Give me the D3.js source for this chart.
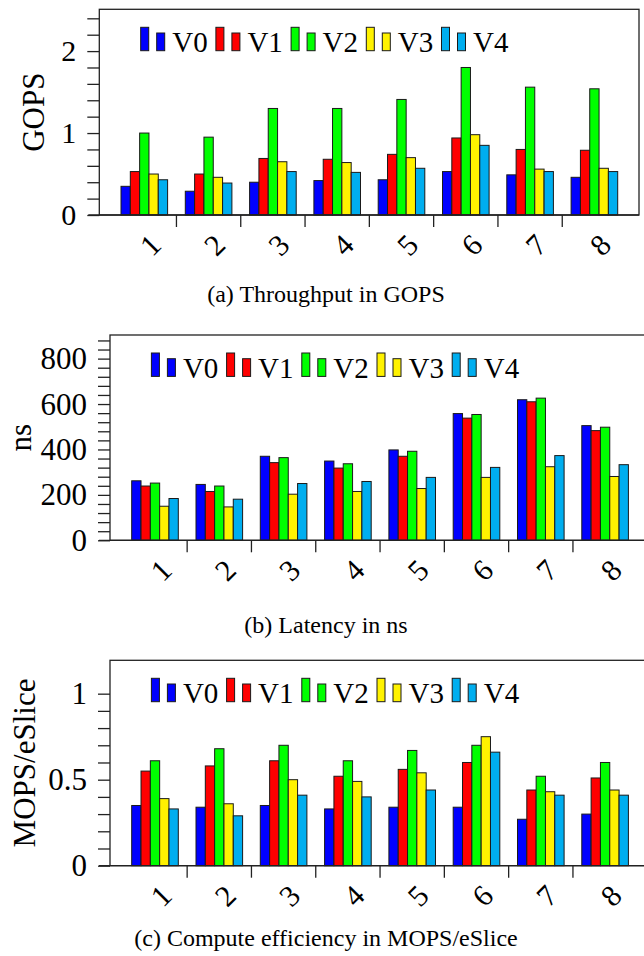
<!DOCTYPE html>
<html>
<head>
<meta charset="utf-8">
<style>
	body { margin: 0; background: #fff; }
	text { font-family: "Liberation Serif", "Times New Roman", serif; fill: #000; }
	.bar { stroke: #1a1a1a; stroke-width: 1; }
	.frame { fill: none; stroke: #222; stroke-width: 1.3; }
	.tick line, .sep { stroke: #222; stroke-width: 1.3; }
</style>
</head>
<body>
<svg width="644" height="956"></svg>
<script src="https://d3js.org/d3.v7.min.js"></script>
<script>

	// series and categories
	var series = ["V0", "V1", "V2", "V3", "V4"];
	var colors = ["#0000ff", "#ff0000", "#00ff00", "#fff200", "#00aeef"];
	var groups = ["1", "2", "3", "4", "5", "6", "7", "8"];

	// (a) throughput, GOPS - one row per series
	var gops = [
		[0.35, 0.29, 0.40, 0.42, 0.43, 0.53, 0.49, 0.46],
		[0.53, 0.50, 0.69, 0.68, 0.74, 0.94, 0.80, 0.79],
		[1.00, 0.95, 1.30, 1.30, 1.41, 1.80, 1.56, 1.54],
		[0.50, 0.46, 0.65, 0.64, 0.70, 0.98, 0.56, 0.57],
		[0.43, 0.39, 0.53, 0.52, 0.57, 0.85, 0.53, 0.53]
	];

	// (b) latency, ns
	var latency = [
		[262, 246, 370, 349, 398, 558, 619, 505],
		[239, 215, 342, 318, 370, 538, 610, 483],
		[252, 239, 364, 337, 392, 554, 626, 498],
		[150, 147, 203, 215, 228, 277, 324, 281],
		[184, 181, 250, 259, 277, 321, 373, 333]
	];

	// (c) compute efficiency, MOPS/eSlice
	var efficiency = [
		[0.35, 0.34, 0.35, 0.33, 0.34, 0.34, 0.27, 0.30],
		[0.55, 0.58, 0.61, 0.52, 0.56, 0.60, 0.44, 0.51],
		[0.61, 0.68, 0.70, 0.61, 0.67, 0.70, 0.52, 0.60],
		[0.39, 0.36, 0.50, 0.49, 0.54, 0.75, 0.43, 0.44],
		[0.33, 0.29, 0.41, 0.40, 0.44, 0.66, 0.41, 0.41]
	];

	var gopsTicks = d3.range(0, 2.41, 0.2), gopsLabels = [0, 1, 2];
	var latTicks = d3.range(0, 881, 40), latLabels = [0, 200, 400, 600, 800];
	var effTicks = d3.range(0, 1.01, 0.1), effLabels = [0, 0.5, 1];

	var svg = d3.select("svg");

	var panels = [
		{ data: gops, left: 99.3, right: 639, top: 9.3, bottom: 215, max: 2.51,
			ticks: gopsTicks, labels: gopsLabels, fmt: d3.format("d"), tickFont: 30,
			ylabel: "GOPS", ylabelX: 33, caption: "(a)  Throughput in GOPS", captionY: 302 },
		{ data: latency, left: 110, right: 652, top: 335, bottom: 540.3, max: 904,
			ticks: latTicks, labels: latLabels, fmt: d3.format("d"), tickFont: 31,
			ylabel: "ns", ylabelX: 20, caption: "(b)  Latency in ns", captionY: 633 },
		{ data: efficiency, left: 110, right: 652, top: 660.3, bottom: 865.7, max: 1.194,
			ticks: effTicks, labels: effLabels, tickFont: 31,
			fmt: function (d) { return d === 0 || d === 1 ? d3.format("d")(d) : d3.format(".1f")(d); },
			ylabel: "MOPS/eSlice", ylabelX: 24, caption: "(c)  Compute efficiency in MOPS/eSlice", captionY: 946 }
	];

	panels.forEach(function (p) {
		var g = svg.append("g");

		var y = d3.scaleLinear().domain([0, p.max]).range([p.bottom, p.top]);
		// groups centred 45px in from the frame, 64.3px apart
		var x0 = d3.scaleBand().domain(groups)
			.range([p.left + 45 - 32.15, p.left + 45 + 7.5 * 64.3]);
		var x1 = d3.scaleBand().domain(series).range([0, 46.6]);
		var off = (x0.bandwidth() - x1.range()[1]) / 2;

		// y ticks (outside, every minor step), labels at majors
		var yAxis = d3.axisLeft(y).tickValues(p.ticks).tickSize(12).tickFormat("");
		g.append("g")
			.attr("transform", "translate(" + p.left + ",0)")
			.call(yAxis)
			.call(function (s) { s.select(".domain").remove(); });

		g.selectAll(".ylab")
			.data(p.labels)
			.enter().append("text")
			.attr("x", p.left - 23)
			.attr("y", function (d) { return y(d); })
			.attr("dy", "0.34em")
			.attr("text-anchor", "end")
			.style("font-size", p.tickFont + "px")
			.text(p.fmt);

		// bars
		var grp = g.selectAll(".grp")
			.data(groups)
			.enter().append("g")
			.attr("transform", function (d) { return "translate(" + (x0(d) + off) + ",0)"; });

		grp.selectAll("rect")
			.data(function (d, i) {
				return series.map(function (s, k) { return { s: s, k: k, v: p.data[k][i] }; });
			})
			.enter().append("rect")
			.attr("class", "bar")
			.attr("x", function (d) { return x1(d.s); })
			.attr("width", x1.bandwidth())
			.attr("y", function (d) { return y(d.v); })
			.attr("height", function (d) { return y(0) - y(d.v); })
			.attr("fill", function (d) { return colors[d.k]; });

		// frame
		g.append("rect")
			.attr("class", "frame")
			.attr("x", p.left)
			.attr("y", p.top)
			.attr("width", p.right - p.left)
			.attr("height", p.bottom - p.top);

		// baseline runs past the frame like the zero tick
		g.append("line")
			.attr("class", "sep")
			.attr("x1", p.left - 11).attr("x2", p.right)
			.attr("y1", y(0)).attr("y2", y(0));

		// separators between groups
		g.selectAll(".sepx")
			.data(groups.slice(1))
			.enter().append("line")
			.attr("class", "sep")
			.attr("x1", function (d) { return x0(d); })
			.attr("x2", function (d) { return x0(d); })
			.attr("y1", y(0)).attr("y2", y(0) + 12);

		// rotated category labels
		g.selectAll(".xlab")
			.data(groups)
			.enter().append("text")
			.attr("transform", function (d) {
				return "translate(" + (x0(d) + x0.bandwidth() / 2 + 6) + "," + (y(0) + 30) + ") rotate(-45)";
			})
			.attr("text-anchor", "middle")
			.attr("dy", "0.34em")
			.style("font-size", "30px")
			.text(function (d) { return d; });

		// legend
		var leg = g.selectAll(".leg")
			.data(series)
			.enter().append("g")
			.attr("transform", function (d, i) {
				return "translate(" + (p.left + 41.4 + i * 75.2) + "," + (p.top + 41.4) + ")";
			});
		leg.append("rect").attr("class", "bar")
			.attr("x", 0).attr("y", -23.4).attr("width", 8).attr("height", 23.4)
			.attr("fill", function (d, i) { return colors[i]; });
		leg.append("rect").attr("class", "bar")
			.attr("x", 16).attr("y", -17.7).attr("width", 8).attr("height", 17.7)
			.attr("fill", function (d, i) { return colors[i]; });
		leg.append("text")
			.attr("x", 31.5).attr("y", 1.5)
			.style("font-size", "29px")
			.text(function (d) { return d; });

		// y label
		g.append("text")
			.attr("transform", "translate(" + p.ylabelX + "," + ((p.top + p.bottom) / 2) + ") rotate(-90)")
			.attr("text-anchor", "middle")
			.attr("dy", "0.34em")
			.style("font-size", "31px")
			.text(p.ylabel);

		// caption
		g.append("text")
			.attr("x", 326)
			.attr("y", p.captionY)
			.attr("text-anchor", "middle")
			.style("font-size", "24px")
			.text(p.caption);
	});

</script>
</body>
</html>
